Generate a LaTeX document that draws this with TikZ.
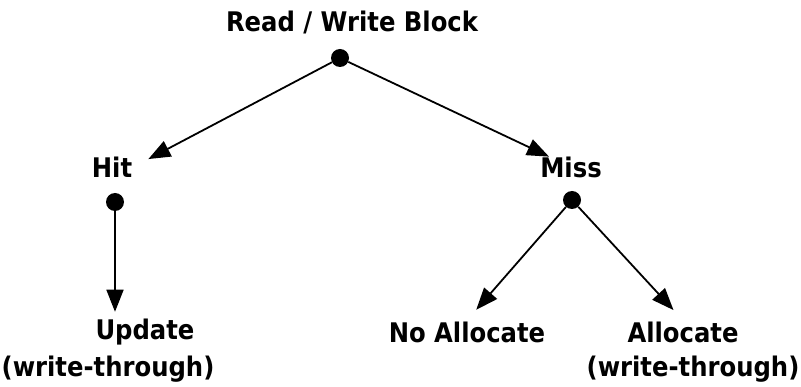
\documentclass[tikz,border=0pt]{standalone}
\usepackage{fontspec}
\setmainfont{DejaVu Sans Condensed}
\usepackage{tikz}
\usetikzlibrary{positioning,calc,arrows.meta}
\tikzstyle{line} = [draw,line width=1.8pt]
\tikzstyle{label} = [font=\bfseries\fontsize{27}{32}\selectfont,inner sep=1pt]
\tikzstyle{dot} = [circle,fill=black,inner sep=0pt,minimum size=18pt]
\tikzstyle{arr} = [line,-{Triangle[length=22pt,width=17pt]}]

\begin{document}
\begin{tikzpicture}[x=1pt,y=-1pt]
    \useasboundingbox (0,0) rectangle (801,387);
    \node[label] (rwb) at (352,22) {Read / Write Block};
    \node[dot] (root) at (340,58) {};
    \node[label] (hit) at (112,167) {Hit};
    \node[dot] (hitdot) at (115,202) {};
    \node[label] (miss) at (571,167) {Miss};
    \node[dot] (missdot) at (572,200) {};
    \node[label] (upd) at (145,332) {Update};
    \node[label] (updwt) at (108,369) {(write-through)};
    \node[label] (noalloc) at (467,332) {No Allocate};
    \node[label] (alloc) at (683,332) {Allocate};
    \node[label] (allocwt) at (693,369) {(write-through)};
    \path [arr,shorten >=17pt] (root) -- (hit.east);
    \path [arr,shorten >=-3pt] (root) -- (miss);
    \path [arr,shorten >=6pt] (hitdot) -- (hitdot |- upd.north);
    \path [arr,shorten >=14pt] (missdot) -- (noalloc.north);
    \path [arr,shorten >=14pt] (missdot) -- (alloc.north);
\end{tikzpicture}
\end{document}
